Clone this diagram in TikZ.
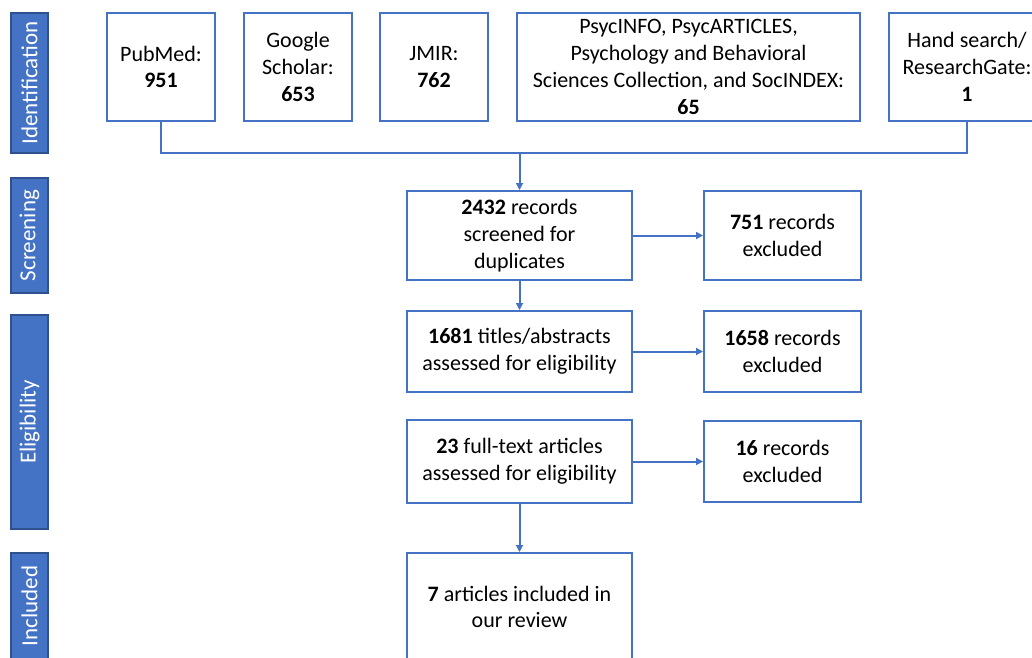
\documentclass[tikz,border=0pt]{standalone}
\usepackage{fontspec}
\setmainfont{Carlito}
\usetikzlibrary{arrows.meta}
\definecolor{lineblue}{HTML}{4472C4}
\definecolor{barblue}{HTML}{4472C4}
\definecolor{bardark}{HTML}{2F528F}
\begin{document}
\begin{tikzpicture}[x=1pt,y=-1pt,
  box/.style={draw=lineblue,line width=2pt,fill=white,align=center,inner sep=2pt,
    font=\fontsize{22}{26.8}\selectfont,text=black},
  bar/.style={draw=bardark,line width=1.2pt,fill=barblue,inner sep=0pt},
  barlabel/.style={text=white,rotate=90,font=\fontsize{23}{26}\selectfont},
  conn/.style={draw=lineblue,line width=2pt},
  arr/.style={conn,-{Triangle[length=7pt,width=7pt]}}]
\useasboundingbox (0,0) rectangle (1032,657);
\clip (0,0) rectangle (1032,657);
\fill[white] (0,0) rectangle (1032,657);
% side bars
\node[bar,minimum width=37pt,minimum height=140pt] (bid) at (29.5,83) {};
\node[barlabel] (lid) at (bid.center) {Identification};
\node[bar,minimum width=37pt,minimum height=115pt] (bsc) at (29.5,235.5) {};
\node[barlabel] (lsc) at (bsc.center) {Screening};
\node[bar,minimum width=37pt,minimum height=214pt] (bel) at (29.5,422) {};
\node[barlabel] (lel) at (bel.center) {Eligibility};
\node[bar,minimum width=37pt,minimum height=120pt] (bin) at (29.5,613) {};
\node[barlabel] (lin) at (29.5,606) {Included};
% top boxes
\node[box,minimum width=108pt,minimum height=108pt] (pub) at (161,67) {PubMed:\\\textbf{951}};
\node[box,minimum width=108pt,minimum height=108pt] (goo) at (298,67) {Google\\Scholar:\\\textbf{653}};
\node[box,minimum width=108pt,minimum height=108pt] (jmir) at (434,67) {JMIR:\\\textbf{762}};
\node[box,minimum width=343pt,minimum height=108pt] (psy) at (688.5,67) {PsycINFO, PsycARTICLES,\\Psychology and Behavioral\\Sciences Collection, and SocINDEX:\\\textbf{65}};
\node[box,minimum width=156pt,minimum height=108pt] (hand) at (967,67) {Hand search/\\ResearchGate:\\\textbf{1}};
% flow boxes
\node[box,minimum width=225pt,minimum height=89pt] (scr) at (519.5,235.5) {\textbf{2432} records\\screened for\\duplicates};
\node[box,minimum width=157pt,minimum height=89pt] (ex1) at (782.5,235.5) {\textbf{751} records\\excluded};
\node[box,minimum width=225pt,minimum height=81pt] (tit) at (519.5,351.5) {\textbf{1681} titles/abstracts\\assessed for eligibility};
\node[box,minimum width=157pt,minimum height=81pt] (ex2) at (782.5,351.5) {\textbf{1658} records\\excluded};
\node[box,minimum width=225pt,minimum height=83pt] (ful) at (519.5,461) {\textbf{23} full-text articles\\assessed for eligibility};
\node[box,minimum width=157pt,minimum height=81pt] (ex3) at (782.5,461.5) {\textbf{16} records\\excluded};
\node[box,minimum width=225pt,minimum height=108pt] (inc) at (519.5,607) {\textbf{7} articles included in\\our review};
% connectors
\coordinate (busL) at (161,153);
\coordinate (busR) at (967,153);
\draw[conn] (pub.south) -- (busL) -- (busR) -- (hand.south);
\draw[arr] (scr.north |- busL) -- (scr.north);
\draw[arr] (scr) -- (ex1);
\draw[arr] (scr.south) -- (tit.north);
\draw[arr] (tit) -- (ex2);
\draw[arr] (ful.east |- ex3.west) -- (ex3.west);
\draw[arr] (ful.south) -- (inc.north);
\end{tikzpicture}
\end{document}
